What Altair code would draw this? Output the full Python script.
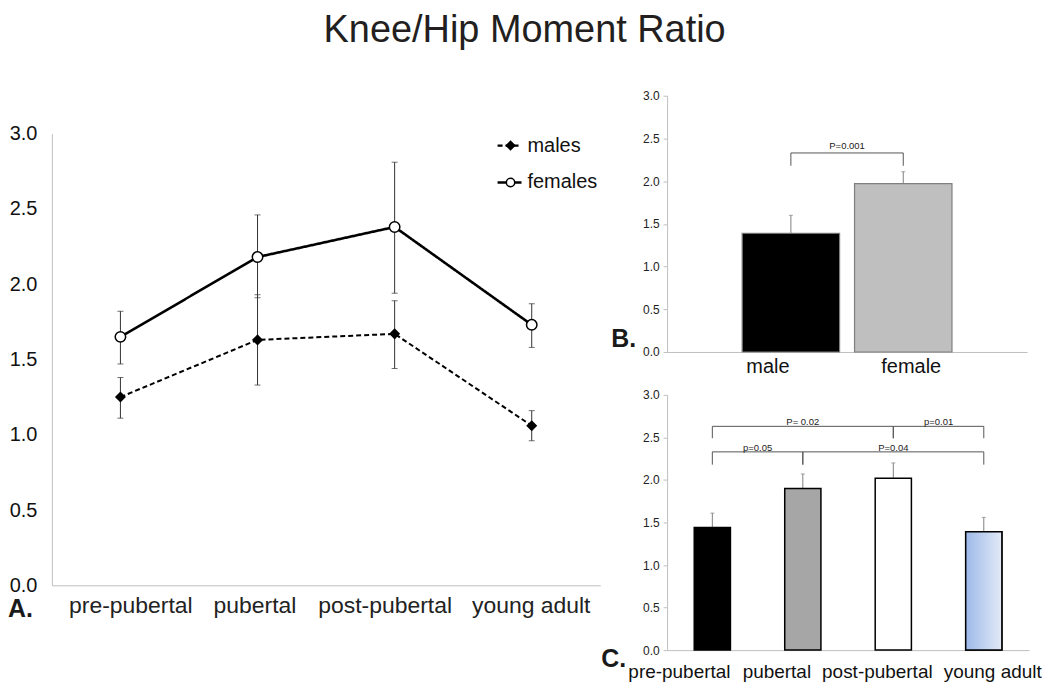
import altair as alt
import pandas as pd

FONT = "Liberation Sans"

# ---------------- data ----------------
stages = ["pre-pubertal", "pubertal", "post-pubertal", "young adult"]

female_mean = [1.65, 2.18, 2.38, 1.73]
female_lo = [1.47, 1.91, 1.94, 1.58]
female_hi = [1.82, 2.46, 2.81, 1.87]

male_mean = [1.25, 1.63, 1.67, 1.06]
male_lo = [1.11, 1.33, 1.44, 0.96]
male_hi = [1.38, 1.93, 1.89, 1.16]

series_names = ["males", "females"]

sex = ["male", "female"]
sex_mean = [1.39, 1.97]
sex_hi = [1.60, 2.11]
sex_fill = ["#000000", "#bfbfbf"]

stage_mean = [1.44, 1.90, 2.02, 1.39]
stage_hi = [1.61, 2.07, 2.20, 1.56]
stage_fill = ["#000000", "#a6a6a6", "#ffffff", "#ffffff"]

b_br_label = ["P=0.001"]
b_br_from = ["male"]
b_br_to = ["female"]
b_br_top = [2.33]
b_br_leg = [2.18]

c_br_label = ["P= 0.02", "p=0.01", "p=0.05", "P=0.04"]
c_br_from = ["pre-pubertal", "post-pubertal", "pre-pubertal", "pubertal"]
c_br_to = ["post-pubertal", "young adult", "pubertal", "young adult"]
c_br_top = [2.63, 2.63, 2.33, 2.33]
c_br_leg = [2.49, 2.49, 2.18, 2.18]

title_text = "Knee/Hip Moment Ratio"
panel_letters = ["A.", "B.", "C."]

# label nudges (pixels) to mimic the pasted-together original figure
label_nudge_A = {"pre-pubertal": 10, "pubertal": -3, "post-pubertal": -10, "young adult": -1}
label_nudge_B = {"male": -23, "female": 8}
label_nudge_C = {"pre-pubertal": -33, "pubertal": -26, "post-pubertal": -16, "young adult": 9}


def nudge_expr(d):
    expr = "0"
    for k, v in d.items():
        expr = f"datum.value == '{k}' ? {v} : ({expr})"
    return alt.ExprRef(expr=expr)


# ---------------- tables ----------------
dfA = pd.concat([
    pd.DataFrame({"stage": stages, "series": "males", "mean": male_mean,
                  "lo": male_lo, "hi": male_hi}),
    pd.DataFrame({"stage": stages, "series": "females", "mean": female_mean,
                  "lo": female_lo, "hi": female_hi}),
], ignore_index=True)

dfB = pd.DataFrame({"sex": sex, "mean": sex_mean, "hi": sex_hi, "fillc": sex_fill})
dfC = pd.DataFrame({"stage": stages, "mean": stage_mean, "hi": stage_hi, "fillc": stage_fill})


def band_domain(n, p_in, p_out):
    dmin = -(p_out + (1 - p_in) / 2)
    return [dmin, dmin + (n - p_in + 2 * p_out)]


def bracket_tables(cats, labels, frm, to, top, leg):
    x1 = [cats.index(f) for f in frm]
    x2 = [cats.index(t) for t in to]
    h = pd.DataFrame({"label": labels, "x1": x1, "x2": x2, "top": top, "leg": leg})
    h["mid"] = (h["x1"] + h["x2"]) / 2
    legs = pd.concat([
        pd.DataFrame({"x": x1, "top": top, "leg": leg}),
        pd.DataFrame({"x": x2, "top": top, "leg": leg}),
    ], ignore_index=True)
    return h, legs


yscale = alt.Scale(domain=[0, 3], nice=False)
yvals = [0, 0.5, 1, 1.5, 2, 2.5, 3]

# ---------------- panel A ----------------
WA, HA = 550, 453
xA = alt.X("stage:N", sort=stages, title=None,
           scale=alt.Scale(type="point", padding=0.5),
           axis=alt.Axis(labelAngle=0, labelFontSize=23, labelColor="#222",
                         labelPadding=9, ticks=False, domainColor="#bfbfbf",
                         labelFont=FONT, labelOffset=nudge_expr(label_nudge_A)))
yA = alt.Y("mean:Q", title=None, scale=yscale,
           axis=alt.Axis(values=yvals, format=".1f", labelFontSize=20,
                         labelColor="#111", ticks=False, grid=False,
                         domainColor="#bfbfbf", labelPadding=15, labelFont=FONT))

baseA = alt.Chart(dfA)
errA = baseA.mark_rule(color="#333", strokeWidth=1).encode(
    x=xA, y=alt.Y("lo:Q", scale=yscale), y2="hi:Q")
capLo = baseA.mark_tick(color="#333", size=6, thickness=1).encode(
    x=xA, y=alt.Y("lo:Q", scale=yscale))
capHi = baseA.mark_tick(color="#333", size=6, thickness=1).encode(
    x=xA, y=alt.Y("hi:Q", scale=yscale))
linesA = baseA.mark_line(color="black").encode(
    x=xA, y=yA,
    detail="series:N",
    strokeDash=alt.StrokeDash("series:N", scale=alt.Scale(domain=series_names, range=[[5, 3], [1, 0]]), legend=None),
    strokeWidth=alt.StrokeWidth("series:N", scale=alt.Scale(domain=series_names, range=[2, 2.6]), legend=None),
)
ptsA = baseA.mark_point(filled=True, opacity=1, stroke="black", strokeWidth=1.5).encode(
    x=xA, y=yA,
    shape=alt.Shape("series:N", scale=alt.Scale(domain=series_names, range=["diamond", "circle"]), legend=None),
    fill=alt.Fill("series:N", scale=alt.Scale(domain=series_names, range=["black", "white"]), legend=None),
    size=alt.Size("series:N", scale=alt.Scale(domain=series_names, range=[80, 110]), legend=None),
)

# manual legend
legdf = pd.DataFrame({"series": series_names})
leg_layers = []
for i, (name, dash, shp, fil) in enumerate(zip(series_names, [[5, 3], [1, 0]],
                                                ["diamond", "circle"], ["black", "white"])):
    yy = 12 + 37 * i
    d = alt.Chart(legdf).transform_filter(alt.datum.series == name)
    leg_layers.append(d.mark_rule(color="black", strokeWidth=2.4, strokeDash=dash).encode(
        x=alt.value(447), x2=alt.value(471), y=alt.value(yy)))
    leg_layers.append(d.mark_point(shape=shp, filled=True, fill=fil, stroke="black",
                                   strokeWidth=1.5, opacity=1, size=70).encode(
        x=alt.value(460), y=alt.value(yy)))
    leg_layers.append(d.mark_text(align="left", baseline="middle", fontSize=20, font=FONT,
                                  color="#111").encode(
        x=alt.value(477), y=alt.value(yy), text="series:N"))

letterdf = pd.DataFrame({"letter": panel_letters})


def letter(ch, x, y):
    return alt.Chart(letterdf).transform_filter(alt.datum.letter == ch).mark_text(
        align="left", baseline="middle", fontSize=25, fontWeight="bold", font=FONT,
        color="#1a1a1a").encode(x=alt.value(x), y=alt.value(y), text="letter:N")


panelA = alt.layer(errA, capLo, capHi, linesA, ptsA, *leg_layers,
                   letter("A.", -44, 477)).properties(width=WA, height=HA)

spacer = alt.Chart(letterdf).mark_text(text="").encode(
    x=alt.value(0), y=alt.value(0)).properties(width=WA, height=1)

# ---------------- panel B ----------------
WB, HB = 361, 257
pinB, poutB = 0.133, 0.668
xB = alt.X("sex:N", sort=sex, title=None,
           scale=alt.Scale(paddingInner=pinB, paddingOuter=poutB),
           axis=alt.Axis(labelAngle=0, labelFontSize=20, labelColor="#111",
                         labelPadding=5, ticks=False, domainColor="#bfbfbf", labelFont=FONT,
                         labelOffset=nudge_expr(label_nudge_B)))
ysmall = alt.Axis(values=yvals, format=".1f", labelFontSize=12, labelColor="#222",
                  ticks=True, tickSize=4, tickColor="#bfbfbf", grid=False,
                  domainColor="#bfbfbf", labelPadding=4, labelFont=FONT)
yB = alt.Y("mean:Q", title=None, scale=yscale, axis=ysmall)

barsB = alt.Chart(dfB).mark_bar(stroke="#7f7f7f", strokeWidth=1.2).encode(
    x=xB, y=yB, fill=alt.Fill("fillc:N", scale=None))
errB = alt.Chart(dfB).mark_rule(color="#808080", strokeWidth=1).encode(
    x=xB, y=yB, y2="hi:Q")
capB = alt.Chart(dfB).mark_tick(color="#808080", size=4, thickness=1).encode(
    x=xB, y=alt.Y("hi:Q", scale=yscale))

hB, legsB = bracket_tables(sex, b_br_label, b_br_from, b_br_to, b_br_top, b_br_leg)
qB = alt.Scale(domain=band_domain(2, pinB, poutB), nice=False, zero=False)
brB = alt.layer(
    alt.Chart(hB).mark_rule(color="#555", strokeWidth=1).encode(
        x=alt.X("x1:Q", scale=qB, axis=None), x2="x2:Q", y=alt.Y("top:Q", scale=yscale)),
    alt.Chart(legsB).mark_rule(color="#555", strokeWidth=1).encode(
        x=alt.X("x:Q", scale=qB, axis=None), y=alt.Y("leg:Q", scale=yscale), y2="top:Q"),
    alt.Chart(hB).mark_text(fontSize=9.5, font=FONT, color="#222", baseline="bottom", dy=-2).encode(
        x=alt.X("mid:Q", scale=qB, axis=None), y=alt.Y("top:Q", scale=yscale), text="label:N"),
)

panelB = alt.layer(
    alt.layer(barsB, errB, capB, letter("B.", -56, 244)),
    brB,
).resolve_scale(x="independent").properties(width=WB, height=HB)

# ---------------- panel C ----------------
WC, HC = 363, 256
pinC, poutC = 0.6, 0.3
xC = alt.X("stage:N", sort=stages, title=None,
           scale=alt.Scale(paddingInner=pinC, paddingOuter=poutC),
           axis=alt.Axis(labelAngle=0, labelFontSize=19, labelColor="#111",
                         labelPadding=12, ticks=False, domainColor="#bfbfbf", labelFont=FONT,
                         labelOffset=nudge_expr(label_nudge_C)))
yC = alt.Y("mean:Q", title=None, scale=yscale, axis=ysmall)

barsC = alt.Chart(dfC).mark_bar(stroke="black", strokeWidth=1.5).encode(
    x=xC, y=yC, fill=alt.Fill("fillc:N", scale=None))
gradC = alt.Chart(dfC).transform_filter(alt.datum.stage == stages[3]).mark_bar(
    stroke="black", strokeWidth=1.5,
    fill=alt.Gradient(gradient="linear",
                      stops=[alt.GradientStop(color="#9db9e8", offset=0),
                             alt.GradientStop(color="#e3eaf7", offset=1)],
                      x1=0, x2=1, y1=0, y2=0)).encode(x=xC, y=yC)
errC = alt.Chart(dfC).mark_rule(color="#808080", strokeWidth=1).encode(x=xC, y=yC, y2="hi:Q")
capC = alt.Chart(dfC).mark_tick(color="#808080", size=4, thickness=1).encode(
    x=xC, y=alt.Y("hi:Q", scale=yscale))

hC, legsC = bracket_tables(stages, c_br_label, c_br_from, c_br_to, c_br_top, c_br_leg)
qC = alt.Scale(domain=band_domain(4, pinC, poutC), nice=False, zero=False)
brC = alt.layer(
    alt.Chart(hC).mark_rule(color="#555", strokeWidth=1).encode(
        x=alt.X("x1:Q", scale=qC, axis=None), x2="x2:Q", y=alt.Y("top:Q", scale=yscale)),
    alt.Chart(legsC).mark_rule(color="#555", strokeWidth=1).encode(
        x=alt.X("x:Q", scale=qC, axis=None), y=alt.Y("leg:Q", scale=yscale), y2="top:Q"),
    alt.Chart(hC).mark_text(fontSize=9.5, font=FONT, color="#222", baseline="bottom", dy=1).encode(
        x=alt.X("mid:Q", scale=qC, axis=None), y=alt.Y("top:Q", scale=yscale), text="label:N"),
)

panelC = alt.layer(
    alt.layer(errC, capC, barsC, gradC, letter("C.", -66, 265)),
    brC,
).resolve_scale(x="independent").properties(width=WC, height=HC)

# ---------------- layout ----------------
left = alt.vconcat(spacer, panelA, spacing=23)
right = alt.vconcat(panelB, panelC, spacing=12)

chart = alt.hconcat(left, right, spacing=1).properties(
    title=alt.TitleParams(title_text, fontSize=38, font=FONT, fontWeight="normal",
                          color="#231f20", anchor="middle", offset=40),
).configure(padding={"top": 3, "left": 0, "right": 0, "bottom": 0}).configure_view(
    stroke=None).configure_text(font=FONT)

chart.save("out.html", embed_options={"renderer": "svg", "actions": False})
